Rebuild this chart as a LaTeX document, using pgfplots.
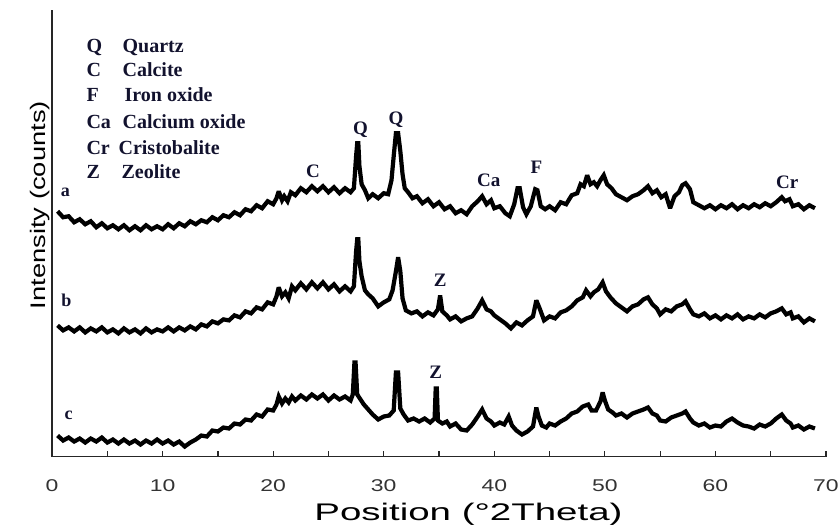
\documentclass[border=0pt]{standalone}
\usepackage{fontspec}
\setmainfont{Liberation Serif}
\newfontfamily\arial{Liberation Sans}
\usepackage{graphicx}
\usepackage{pgfplots}
\pgfplotsset{compat=1.18}
\definecolor{ink}{rgb}{0.07,0.07,0.18}
\pgfplotstableread{
x y
0.5 245
1.0 239
1.5 240
2.0 234
2.5 237
3.0 232
3.5 235
4.0 229
4.5 233
5.0 228
5.5 231
6.0 227
6.5 231
7.0 226
7.5 230
8.0 226
8.5 231
9.0 227
9.5 230
10.0 227
10.5 232
11.0 228
11.5 233
12.0 230
12.5 235
13.0 232
13.5 236
14.0 234
14.5 239
15.0 236
15.5 241
16.0 239
16.5 244
17.0 241
17.5 247
18.0 245
18.5 251
19.0 248
19.5 255
20.0 252
20.3 258
20.5 265
20.8 256
21.0 260
21.3 255
21.6 264
22.0 261
22.5 268
23.0 264
23.5 270
24.0 265
24.5 270
25.0 264
25.5 269
26.0 263
26.5 268
27.0 264
27.3 268
27.5 300
27.6 313
27.7 313
27.8 290
28.0 272
28.3 266
28.6 258
29.0 262
29.5 258
30.0 263
30.4 262
30.7 276
30.9 300
31.1 323
31.3 323
31.5 305
31.7 282
31.9 268
32.2 264
32.6 258
33.0 260
33.5 253
34.0 257
34.5 250
35.0 254
35.5 247
36.0 250
36.5 243
37.0 246
37.5 242
38.0 250
38.5 255
38.9 260
39.3 252
39.7 256
40.0 248
40.5 250
41.0 243
41.4 240
41.8 252
42.1 268
42.3 268
42.6 249
42.9 242
43.3 250
43.7 267
43.9 266
44.2 250
44.6 247
45.0 250
45.5 246
46.0 254
46.5 252
47.0 261
47.5 263
47.8 272
48.1 270
48.4 281
48.7 272
49.0 274
49.3 270
49.6 276
49.9 281
50.2 272
50.6 268
51.0 262
51.5 259
52.0 256
52.5 260
53.0 262
53.5 266
53.9 270
54.3 263
54.7 266
55.1 259
55.5 262
55.9 248
56.3 260
56.7 264
57.0 271
57.3 273
57.7 267
58.0 254
58.5 251
59.0 248
59.5 251
60.0 247
60.5 251
61.0 248
61.5 252
62.0 247
62.5 251
63.0 248
63.5 252
64.0 249
64.5 253
65.0 250
65.5 254
66.0 259
66.3 255
66.7 257
67.0 250
67.5 252
68.0 247
68.5 251
69.0 248
}\seriesA
\pgfplotstableread{
x y
0.5 131
1.0 126
1.5 129
2.0 125
2.5 129
3.0 124
3.5 128
4.0 125
4.5 129
5.0 124
5.5 127
6.0 123
6.5 128
7.0 124
7.5 127
8.0 123
8.5 128
9.0 124
9.5 127
10.0 125
10.5 129
11.0 125
11.5 129
12.0 126
12.5 130
13.0 127
13.5 132
14.0 130
14.5 135
15.0 133
15.5 137
16.0 136
16.5 141
17.0 139
17.5 145
18.0 143
18.5 149
19.0 147
19.5 154
20.0 152
20.3 160
20.5 169
20.8 160
21.1 164
21.4 158
21.7 170
22.0 166
22.5 173
23.0 167
23.5 174
24.0 168
24.5 174
25.0 167
25.5 172
26.0 165
26.5 170
27.0 165
27.3 170
27.5 205
27.6 217
27.7 217
27.8 195
28.0 180
28.3 166
28.6 162
29.0 158
29.5 150
30.0 154
30.5 157
30.8 166
31.1 185
31.3 199
31.5 185
31.7 158
32.0 146
32.5 143
33.0 145
33.5 140
34.0 144
34.5 141
34.9 147
35.1 161
35.3 145
35.7 141
36.0 137
36.5 140
37.0 135
37.5 138
38.0 140
38.5 148
38.9 156
39.3 147
39.7 145
40.0 141
40.5 137
41.0 133
41.5 128
42.0 134
42.5 131
43.0 136
43.5 140
43.8 156
44.1 148
44.5 136
45.0 140
45.5 138
46.0 144
46.5 146
47.0 150
47.5 156
48.0 159
48.3 166
48.7 160
49.0 164
49.4 167
49.8 174
50.1 165
50.5 159
51.0 153
51.5 149
52.0 145
52.5 150
53.0 152
53.5 157
53.9 159
54.3 152
54.7 148
55.0 142
55.5 147
56.0 145
56.5 150
57.0 152
57.3 155
57.7 147
58.0 142
58.5 140
59.0 143
59.5 138
60.0 141
60.5 137
61.0 141
61.5 138
62.0 142
62.5 137
63.0 140
63.5 138
64.0 142
64.5 139
65.0 143
65.5 145
66.0 148
66.4 142
66.8 144
67.0 138
67.5 140
68.0 134
68.5 138
69.0 135
}\seriesB
\pgfplotstableread{
x y
0.5 21
1.0 16
1.5 19
2.0 15
2.5 18
3.0 14
3.5 18
4.0 15
4.5 19
5.0 14
5.5 17
6.0 13
6.5 17
7.0 13
7.5 16
8.0 12
8.5 16
9.0 13
9.5 17
10.0 13
10.5 16
11.0 12
11.5 15
12.0 10
12.5 14
13.0 17
13.5 21
14.0 20
14.5 26
15.0 25
15.5 29
16.0 28
16.5 33
17.0 32
17.5 37
18.0 36
18.5 42
19.0 40
19.5 47
20.0 46
20.3 52
20.5 60
20.8 53
21.1 58
21.4 54
21.7 60
22.0 56
22.5 61
23.0 57
23.5 62
24.0 58
24.5 62
25.0 56
25.5 61
26.0 57
26.5 60
27.0 56
27.2 62
27.35 94
27.45 94
27.6 62
27.9 57
28.2 52
28.6 47
29.0 42
29.5 37
30.0 40
30.5 41
30.9 46
31.1 84
31.3 84
31.5 48
31.8 42
32.2 36
32.7 38
33.2 35
33.7 38
34.2 34
34.6 38
34.7 68
34.8 68
34.9 36
35.3 33
35.7 35
36.0 30
36.5 33
37.0 27
37.5 26
38.0 32
38.5 40
38.9 47
39.3 38
39.7 35
40.0 31
40.5 34
40.9 32
41.3 40
41.6 31
42.0 26
42.5 22
43.0 25
43.5 30
43.8 49
44.0 40
44.3 31
44.7 29
45.0 33
45.5 31
46.0 35
46.5 38
47.0 43
47.5 45
48.0 50
48.5 52
48.8 46
49.2 46
49.6 55
49.8 64
50.0 56
50.3 47
50.7 44
51.0 41
51.5 43
52.0 39
52.5 43
53.0 45
53.5 47
53.9 49
54.3 43
54.7 41
55.0 36
55.5 35
56.0 39
56.5 41
57.0 43
57.3 45
57.7 38
58.0 34
58.5 31
59.0 33
59.5 29
60.0 31
60.5 30
61.0 35
61.5 38
62.0 34
62.5 31
63.0 30
63.5 28
64.0 32
64.5 30
65.0 33
65.5 38
66.0 42
66.4 36
66.8 33
67.0 29
67.5 31
68.0 27
68.5 30
69.0 28
}\seriesC
\begin{document}
\begin{tikzpicture}
\begin{axis}[
  scale only axis, width=386.5pt, height=223pt,
  xmin=0, xmax=70, ymin=0, ymax=446,
  axis x line*=bottom, axis y line*=left,
  axis line style={line width=0.6pt, black!85},
  xtick={0,10,20,30,40,50,60,70},
  minor xtick={5,15,25,35,45,55,65},
  xticklabels={\scalebox{1.35}[1]{0},\scalebox{1.35}[1]{10},\scalebox{1.35}[1]{20},\scalebox{1.35}[1]{30},\scalebox{1.35}[1]{40},\scalebox{1.35}[1]{50},\scalebox{1.35}[1]{60},\scalebox{1.35}[1]{70}},
  ytick=\empty,
  major tick length=3pt, minor tick length=3pt,
  tick style={black!85, line width=0.6pt},
  xticklabel style={font=\arial\fontsize{8.5}{10}\selectfont, yshift=-8pt, text=black!80},
  xlabel={\scalebox{1.6}[1]{Position (°2Theta)}},
  xlabel style={font=\arial\fontsize{12}{14}\selectfont, at={(axis description cs:0.538,0)}, anchor=base, yshift=-32pt},
  ylabel={\scalebox{1.3}[1]{Intensity (counts)}},
  ylabel style={font=\arial\fontsize{10.5}{12}\selectfont, at={(axis description cs:-0.009,0.563)}, anchor=base},
  clip=false,
]
\addplot[black, line width=2.1pt, line join=miter, miter limit=3] table[x=x,y=y] {\seriesA};
\addplot[black, line width=2.1pt, line join=miter, miter limit=3] table[x=x,y=y] {\seriesB};
\addplot[black, line width=2.1pt, line join=miter, miter limit=3] table[x=x,y=y] {\seriesC};
% legend
\begin{scope}[every node/.style={anchor=base west, text=ink, font=\fontsize{10}{12}\selectfont\bfseries, inner sep=0pt}]
\node at (axis cs:3.08,403.5) {Q};
\node at (axis cs:6.34,403.5) {Quartz};
\node at (axis cs:3.08,380) {C};
\node at (axis cs:6.34,380) {Calcite};
\node at (axis cs:3.08,354.5) {F};
\node at (axis cs:6.52,354.5) {Iron oxide};
\node at (axis cs:3.08,328) {Ca};
\node at (axis cs:6.34,328) {Calcium oxide};
\node at (axis cs:3.08,302) {Cr};
\node at (axis cs:5.98,302) {Cristobalite};
\node at (axis cs:3.08,278) {Z};
\node at (axis cs:6.25,278) {Zeolite};
\end{scope}
% peak labels
\begin{scope}[every node/.style={text=ink, font=\fontsize{9.5}{11}\selectfont\bfseries, inner sep=0pt}]
\node at (axis cs:23.6,285) {C};
\node at (axis cs:27.9,326) {Q};
\node at (axis cs:31.1,336) {Q};
\node at (axis cs:39.5,276) {Ca};
\node at (axis cs:43.8,289) {F};
\node at (axis cs:66.5,274) {Cr};
\node at (axis cs:35.1,176) {Z};
\node at (axis cs:34.7,84) {Z};
\end{scope}
\begin{scope}[every node/.style={text=ink, font=\fontsize{9}{11}\selectfont\bfseries, inner sep=0pt}]
\node at (axis cs:1.2,264) {a};
\node at (axis cs:1.3,156) {b};
\node at (axis cs:1.5,41) {c};
\end{scope}
\end{axis}
\pgfresetboundingbox
\path (-26pt,-37pt) rectangle (393.5pt,228pt);
\end{tikzpicture}
\end{document}
